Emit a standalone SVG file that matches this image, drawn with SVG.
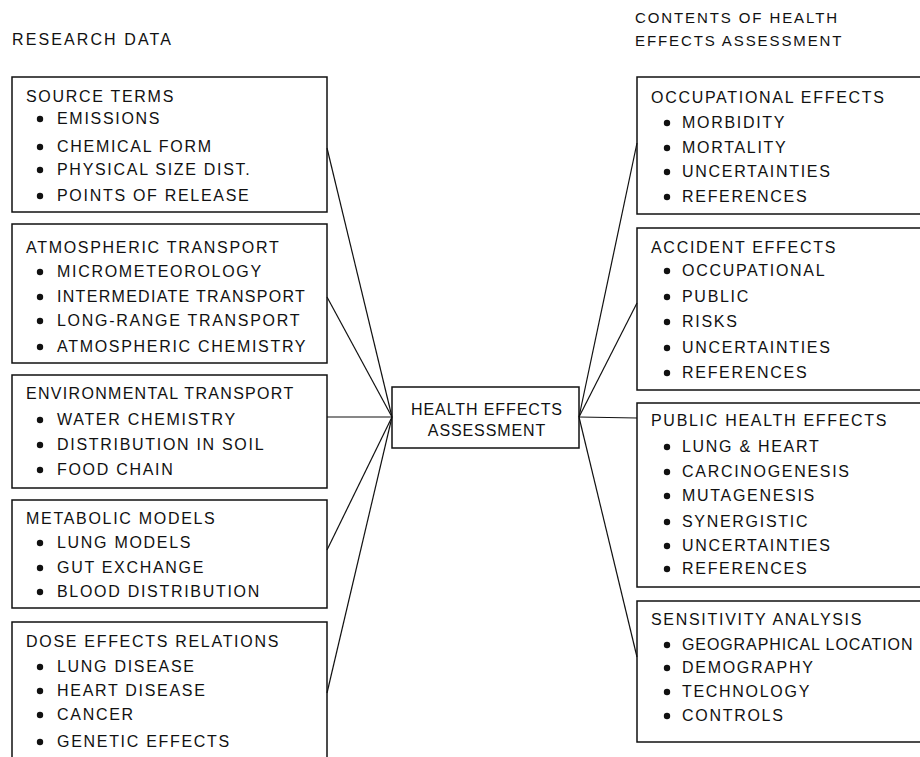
<svg xmlns="http://www.w3.org/2000/svg" width="920" height="757" viewBox="0 0 920 757">
<style>
text{font-family:"Liberation Sans",Arial,sans-serif;font-size:16px;fill:#111;letter-spacing:1.7px}
.hdr{font-size:15px;letter-spacing:1.9px}
.box{fill:none;stroke:#111;stroke-width:1.5}
.con line{stroke:#111;stroke-width:1.2}
.dot{fill:#111}
.ctr{letter-spacing:0.9px;text-anchor:middle}
</style>
<defs><circle id="b" r="3.2" class="dot"/></defs>
<rect width="920" height="757" fill="#fff"/>
<text x="12" y="45" style="letter-spacing:2.1px">RESEARCH DATA</text>
<text class="hdr" x="635" y="23">CONTENTS OF HEALTH</text>
<text class="hdr" x="635" y="46">EFFECTS ASSESSMENT</text>

<g id="connectors" class="con">
<line x1="327" y1="148" x2="392" y2="417"/>
<line x1="327" y1="297" x2="392" y2="417"/>
<line x1="327" y1="417" x2="392" y2="417"/>
<line x1="327" y1="550" x2="392" y2="417"/>
<line x1="327" y1="693" x2="392" y2="417"/>
<line x1="579" y1="417" x2="637" y2="143"/>
<line x1="579" y1="417" x2="637" y2="303"/>
<line x1="579" y1="417" x2="637" y2="418"/>
<line x1="579" y1="417" x2="637" y2="657"/>
</g>

<g id="center">
<rect class="box" x="392" y="387" width="187" height="61"/>
<text class="ctr" x="487" y="415">HEALTH EFFECTS</text>
<text class="ctr" x="487" y="436">ASSESSMENT</text>
</g>

<g id="source-terms">
<rect class="box" x="12" y="77" width="315" height="135"/>
<text x="26" y="102">SOURCE TERMS</text>
<use href="#b" x="40" y="119"/><text x="57" y="124">EMISSIONS</text>
<use href="#b" x="40" y="147"/><text x="57" y="152">CHEMICAL FORM</text>
<use href="#b" x="40" y="170"/><text x="57" y="175">PHYSICAL SIZE DIST.</text>
<use href="#b" x="40" y="196"/><text x="57" y="201">POINTS OF RELEASE</text>
</g>

<g id="atmospheric-transport">
<rect class="box" x="12" y="224" width="315" height="139"/>
<text x="26" y="253">ATMOSPHERIC TRANSPORT</text>
<use href="#b" x="40" y="272"/><text x="57" y="277">MICROMETEOROLOGY</text>
<use href="#b" x="40" y="297"/><text x="57" y="302" style="letter-spacing:1.3px">INTERMEDIATE TRANSPORT</text>
<use href="#b" x="40" y="321"/><text x="57" y="326">LONG-RANGE TRANSPORT</text>
<use href="#b" x="40" y="347"/><text x="57" y="352">ATMOSPHERIC CHEMISTRY</text>
</g>

<g id="environmental-transport">
<rect class="box" x="12" y="375" width="315" height="113"/>
<text x="26" y="399" style="letter-spacing:1.3px">ENVIRONMENTAL TRANSPORT</text>
<use href="#b" x="40" y="420"/><text x="57" y="425">WATER CHEMISTRY</text>
<use href="#b" x="40" y="445"/><text x="57" y="450">DISTRIBUTION IN SOIL</text>
<use href="#b" x="40" y="470"/><text x="57" y="475">FOOD CHAIN</text>
</g>

<g id="metabolic-models">
<rect class="box" x="12" y="500" width="315" height="108"/>
<text x="26" y="524">METABOLIC MODELS</text>
<use href="#b" x="40" y="543"/><text x="57" y="548">LUNG MODELS</text>
<use href="#b" x="40" y="568"/><text x="57" y="573">GUT EXCHANGE</text>
<use href="#b" x="40" y="592"/><text x="57" y="597">BLOOD DISTRIBUTION</text>
</g>

<g id="dose-effects-relations">
<rect class="box" x="12" y="622" width="315" height="160"/>
<text x="26" y="647">DOSE EFFECTS RELATIONS</text>
<use href="#b" x="40" y="667"/><text x="57" y="672">LUNG DISEASE</text>
<use href="#b" x="40" y="691"/><text x="57" y="696">HEART DISEASE</text>
<use href="#b" x="40" y="715"/><text x="57" y="720">CANCER</text>
<use href="#b" x="40" y="742"/><text x="57" y="747">GENETIC EFFECTS</text>
</g>

<g id="occupational-effects">
<rect class="box" x="637" y="77" width="300" height="137"/>
<text x="651" y="103">OCCUPATIONAL EFFECTS</text>
<use href="#b" x="667" y="123"/><text x="682" y="128">MORBIDITY</text>
<use href="#b" x="667" y="148"/><text x="682" y="153">MORTALITY</text>
<use href="#b" x="667" y="172"/><text x="682" y="177">UNCERTAINTIES</text>
<use href="#b" x="667" y="197"/><text x="682" y="202">REFERENCES</text>
</g>

<g id="accident-effects">
<rect class="box" x="637" y="228" width="300" height="162"/>
<text x="651" y="253">ACCIDENT EFFECTS</text>
<use href="#b" x="667" y="271"/><text x="682" y="276">OCCUPATIONAL</text>
<use href="#b" x="667" y="297"/><text x="682" y="302">PUBLIC</text>
<use href="#b" x="667" y="322"/><text x="682" y="327">RISKS</text>
<use href="#b" x="667" y="348"/><text x="682" y="353">UNCERTAINTIES</text>
<use href="#b" x="667" y="373"/><text x="682" y="378">REFERENCES</text>
</g>

<g id="public-health-effects">
<rect class="box" x="637" y="403" width="300" height="184"/>
<text x="651" y="426">PUBLIC HEALTH EFFECTS</text>
<use href="#b" x="667" y="447"/><text x="682" y="452">LUNG &amp; HEART</text>
<use href="#b" x="667" y="472"/><text x="682" y="477">CARCINOGENESIS</text>
<use href="#b" x="667" y="496"/><text x="682" y="501">MUTAGENESIS</text>
<use href="#b" x="667" y="522"/><text x="682" y="527">SYNERGISTIC</text>
<use href="#b" x="667" y="546"/><text x="682" y="551">UNCERTAINTIES</text>
<use href="#b" x="667" y="569"/><text x="682" y="574">REFERENCES</text>
</g>

<g id="sensitivity-analysis">
<rect class="box" x="637" y="601" width="300" height="141"/>
<text x="651" y="625">SENSITIVITY ANALYSIS</text>
<use href="#b" x="667" y="645"/><text x="682" y="650" style="letter-spacing:0.9px">GEOGRAPHICAL LOCATION</text>
<use href="#b" x="667" y="668"/><text x="682" y="673">DEMOGRAPHY</text>
<use href="#b" x="667" y="692"/><text x="682" y="697">TECHNOLOGY</text>
<use href="#b" x="667" y="716"/><text x="682" y="721">CONTROLS</text>
</g>
</svg>
